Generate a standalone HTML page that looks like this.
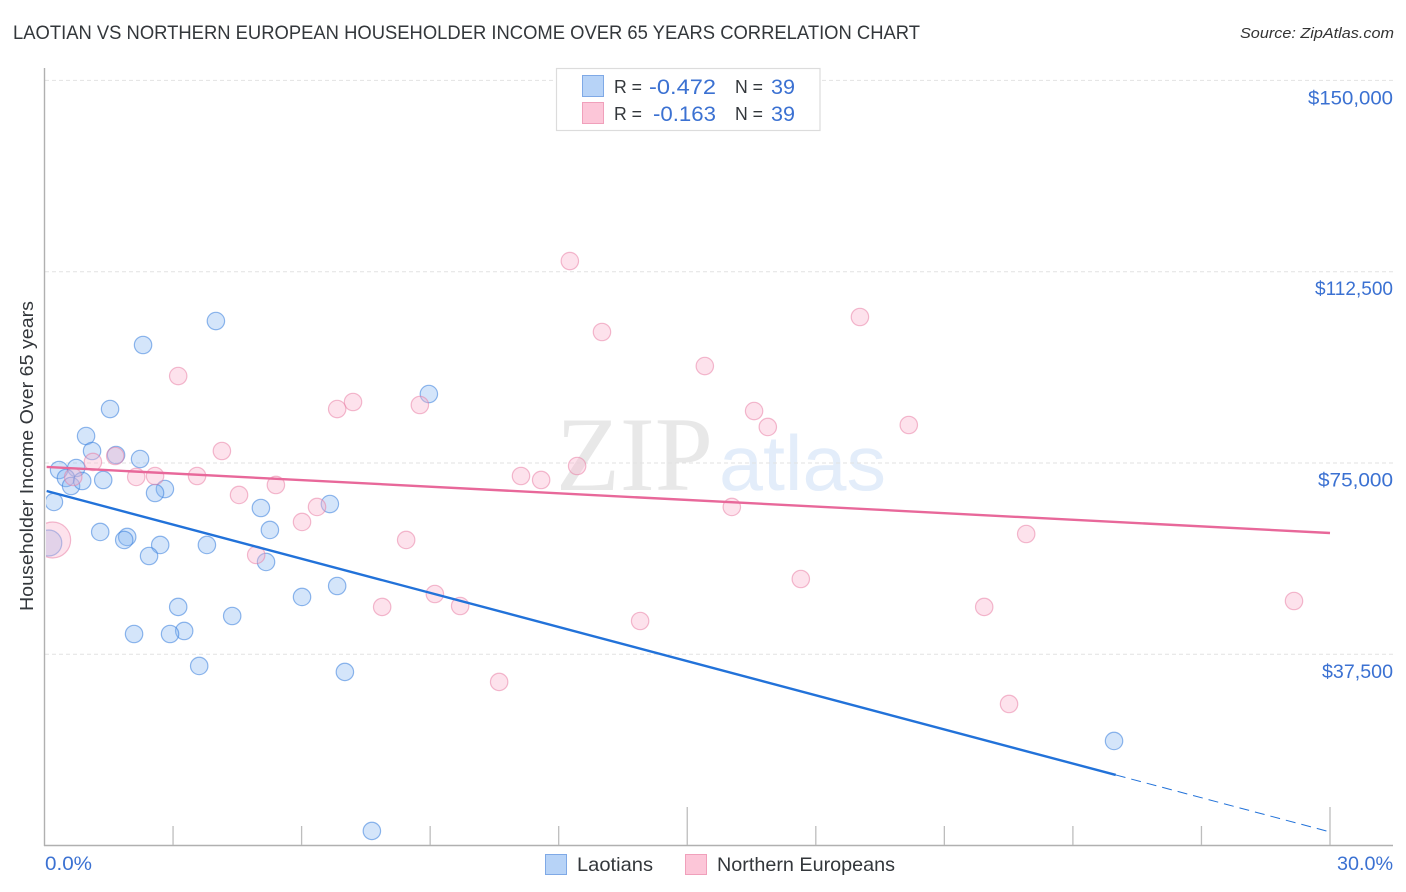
<!DOCTYPE html>
<html>
<head>
<meta charset="utf-8">
<title>Laotian vs Northern European Householder Income Over 65 Years Correlation Chart</title>
<style>
html,body{margin:0;padding:0;background:#fff;}
svg{display:block;}
text{font-family:"Liberation Sans",sans-serif;}
</style>
</head>
<body>
<svg id="chart" xmlns="http://www.w3.org/2000/svg" width="1406" height="892" viewBox="0 0 1406 892">
  <defs><clipPath id="plot-clip"><rect x="46" y="60" width="1350" height="785"/></clipPath></defs>
  <text x="13" y="39" font-size="19" fill="#33373b" textLength="907" lengthAdjust="spacingAndGlyphs">LAOTIAN VS NORTHERN EUROPEAN HOUSEHOLDER INCOME OVER 65 YEARS CORRELATION CHART</text>
  <text x="1394" y="38" font-size="15" font-style="italic" fill="#333" text-anchor="end" textLength="154" lengthAdjust="spacingAndGlyphs">Source: ZipAtlas.com</text>
  <g>
    <text x="556" y="490" font-size="106" fill="#e8e8e8" style="font-family:'Liberation Serif',serif" textLength="157" lengthAdjust="spacingAndGlyphs">ZIP</text>
    <text x="719" y="490" font-size="78" fill="#e3edfa" textLength="167" lengthAdjust="spacingAndGlyphs">atlas</text>
  </g>
  <g id="grid"></g>
  <g id="axes"></g>
  <g id="points" clip-path="url(#plot-clip)"></g>
  <g id="trends"></g>
  <g id="labels"></g>
  <text transform="translate(33,611) rotate(-90)" font-size="18.5" fill="#33373b" textLength="310" lengthAdjust="spacingAndGlyphs">Householder Income Over 65 years</text>

  <g>
    <rect x="556.5" y="68.5" width="263.5" height="62" fill="#fff" stroke="#dcdcdc" stroke-width="1.2"/>
    <rect x="582.5" y="75.5" width="21" height="21" fill="#b7d3f7" stroke="#7fa9e6" stroke-width="1"/>
    <rect x="582.5" y="102.5" width="21" height="21" fill="#fcc6d8" stroke="#f0a0bb" stroke-width="1"/>
    <text x="614" y="93" font-size="18" fill="#33373b" textLength="28" lengthAdjust="spacingAndGlyphs">R =</text>
    <text x="716" y="94" font-size="21" fill="#3b71d2" text-anchor="end" textLength="67" lengthAdjust="spacingAndGlyphs">-0.472</text>
    <text x="735" y="93" font-size="18" fill="#33373b" textLength="28" lengthAdjust="spacingAndGlyphs">N =</text>
    <text x="795" y="94" font-size="21" fill="#3b71d2" text-anchor="end" textLength="24" lengthAdjust="spacingAndGlyphs">39</text>
    <text x="614" y="120" font-size="18" fill="#33373b" textLength="28" lengthAdjust="spacingAndGlyphs">R =</text>
    <text x="716" y="121" font-size="21" fill="#3b71d2" text-anchor="end" textLength="63" lengthAdjust="spacingAndGlyphs">-0.163</text>
    <text x="735" y="120" font-size="18" fill="#33373b" textLength="28" lengthAdjust="spacingAndGlyphs">N =</text>
    <text x="795" y="121" font-size="21" fill="#3b71d2" text-anchor="end" textLength="24" lengthAdjust="spacingAndGlyphs">39</text>
  </g>

  <g>
    <rect x="545.5" y="854.5" width="21" height="20" fill="#b7d3f7" stroke="#7fa9e6" stroke-width="1"/>
    <text x="577" y="871" font-size="19.5" fill="#33373b" textLength="76" lengthAdjust="spacingAndGlyphs">Laotians</text>
    <rect x="685.5" y="854.5" width="21" height="20" fill="#fcc6d8" stroke="#f0a0bb" stroke-width="1"/>
    <text x="717" y="871" font-size="19.5" fill="#33373b" textLength="178" lengthAdjust="spacingAndGlyphs">Northern Europeans</text>
  </g>
</svg>
<script>
const yTickValues = [150000, 112500, 75000, 37500];
const yTickLabels = ["$150,000", "$112,500", "$75,000", "$37,500"];
const xEdgeTickLabels = ["0.0%", "30.0%"];
const xTickValues = [3, 6, 9, 12, 15, 18, 21, 24, 27, 30];
const xMajorTicks = [15, 30];

const laotianPct = [4.00,2.30,8.97,1.53,0.97,1.11,1.67,2.23,0.34,0.74,0.50,0.62,0.88,1.37,2.81,2.58,0.22,6.66,5.05,5.26,1.30,1.93,1.86,0.10,2.70,3.79,2.44,5.17,6.83,6.01,3.12,4.38,3.26,2.93,2.09,3.61,7.01,24.96,7.64];
const laotianIncome = [102830,98130,88520,85580,80290,77350,76570,75780,73630,74020,72060,70490,71470,71670,69900,69120,67360,66960,66180,61870,61480,60500,59910,59320,58930,58930,56770,55600,50890,48740,46780,45010,42070,41480,41480,35210,34040,20510,2870];
const laotianLargeIndex = 23;

const europeanPct = [12.26,13.01,19.03,3.12,15.41,7.20,6.83,8.76,16.56,16.88,20.17,4.14,1.65,1.13,12.43,0.67,2.14,2.58,3.56,11.12,11.59,5.40,4.54,6.36,6.01,16.04,22.91,8.44,0.19,4.94,17.65,9.11,7.88,9.70,21.93,29.16,13.90,10.61,22.51];
const europeanIncome = [114590,100680,103620,92050,94010,86960,85580,86370,85190,82060,82450,77350,76370,75200,74410,72260,72260,72450,72450,72450,71670,70690,68730,66380,63440,66380,61080,59910,59910,56970,52260,49320,46780,46970,46780,47950,44030,32080,27760];
const europeanLargeIndex = 28;

const laotianTrendPct = [0.05, 25.0, 30.0];
const laotianTrendIncome = [69510, 13850, 2680];
const europeanTrendPct = [0.05, 30.0];
const europeanTrendIncome = [74220, 61280];

const NS = "http://www.w3.org/2000/svg";
function xScale(p){ return 44.5 + p * 42.85; }
function yScale(v){ return 463 - (v - 75000) * 191.3 / 37500; }
function labelWidth(i){ return i === 0 ? 85 : i === 1 ? 78 : i === 2 ? 75 : 71; }
function make(tag, attrs, parent){
  const el = document.createElementNS(NS, tag);
  for (const k in attrs) el.setAttribute(k, attrs[k]);
  parent.appendChild(el);
  return el;
}
const grid = document.getElementById("grid");
const axes = document.getElementById("axes");
const points = document.getElementById("points");
const trends = document.getElementById("trends");
const labels = document.getElementById("labels");

yTickValues.forEach(function(v, i){
  const line = make("line", {x1:45, x2:1393, y1:yScale(v), y2:yScale(v), stroke:"#e2e2e2", "stroke-width":1, "stroke-dasharray":"4 3"}, grid);
  
  
  const t = make("text", {x:1393, y:yScale(v) + (i === 0 ? 24 : 23.5), "font-size":19, fill:"#3b71d2", "text-anchor":"end", textLength:labelWidth(i), lengthAdjust:"spacingAndGlyphs"}, labels);
  t.textContent = yTickLabels[i];
  
  
});

const yAxis = make("line", {x1:44.5, x2:44.5, y1:68, y2:846, stroke:"#b0b0b0", "stroke-width":1.4}, axes);


const xAxis = make("line", {x1:44, x2:1393, y1:845.5, y2:845.5, stroke:"#b0b0b0", "stroke-width":1.4}, axes);


xTickValues.forEach(function(p){
  const major = xMajorTicks.indexOf(p) >= 0;
  const tick = make("line", {x1:xScale(p), x2:xScale(p), y1:major ? 807 : 826, y2:845, stroke:"#bdbdbd", "stroke-width":1.3}, axes);
  
  
});

const xLabelLeft = make("text", {x:45, y:870, "font-size":19, fill:"#3b71d2", textLength:47, lengthAdjust:"spacingAndGlyphs"}, labels);
xLabelLeft.textContent = xEdgeTickLabels[0];


const xLabelRight = make("text", {x:1393, y:870, "font-size":19, fill:"#3b71d2", "text-anchor":"end", textLength:56, lengthAdjust:"spacingAndGlyphs"}, labels);
xLabelRight.textContent = xEdgeTickLabels[1];



laotianPct.forEach(function(p, i){
  const c = make("circle", {cx:xScale(p), cy:yScale(laotianIncome[i]), r:i === laotianLargeIndex ? 13 : 8.7, fill:"rgba(130,178,240,0.34)", stroke:"rgba(55,125,220,0.55)", "stroke-width":1.2}, points);
  
  
});
europeanPct.forEach(function(p, i){
  const c = make("circle", {cx:xScale(p), cy:yScale(europeanIncome[i]), r:i === europeanLargeIndex ? 18 : 8.7, fill:"rgba(250,180,205,0.38)", stroke:"rgba(232,120,160,0.5)", "stroke-width":1.2}, points);
  
  
});

const blueSolid = make("line", {x1:xScale(laotianTrendPct[0]), y1:yScale(laotianTrendIncome[0]), x2:xScale(laotianTrendPct[1]), y2:yScale(laotianTrendIncome[1]), stroke:"#2272d9", "stroke-width":2.4}, trends);


const blueDash = make("line", {x1:xScale(laotianTrendPct[1]), y1:yScale(laotianTrendIncome[1]), x2:xScale(laotianTrendPct[2]), y2:yScale(laotianTrendIncome[2]), stroke:"#2272d9", "stroke-width":1, "stroke-dasharray":"10 6"}, trends);


const pinkSolid = make("line", {x1:xScale(europeanTrendPct[0]), y1:yScale(europeanTrendIncome[0]), x2:xScale(europeanTrendPct[1]), y2:yScale(europeanTrendIncome[1]), stroke:"#e8689a", "stroke-width":2.4}, trends);


</script>
</body>
</html>
